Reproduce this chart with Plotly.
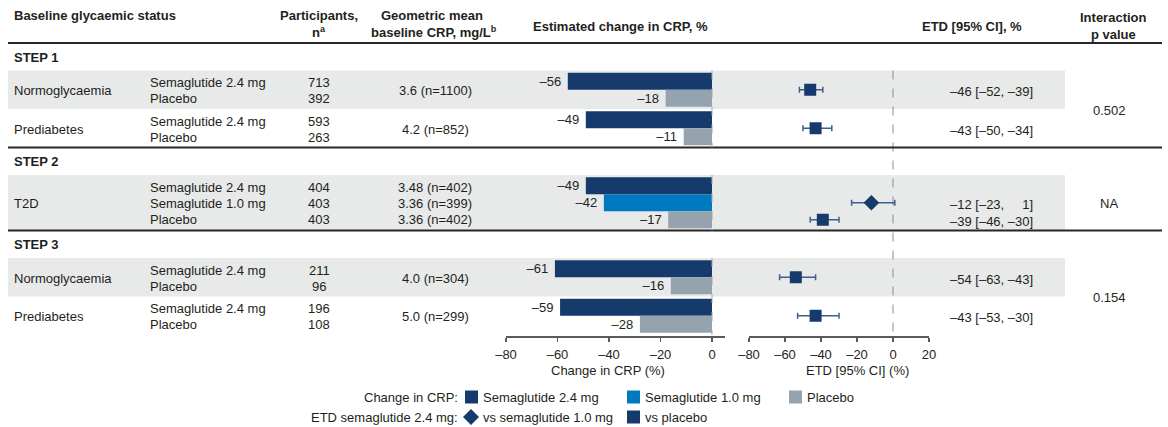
import plotly.graph_objects as go

W, H = 1168, 427

# ---------------- data ----------------
section_names = ["STEP 1", "STEP 2", "STEP 3"]
section_p_values = ["0.502", "NA", "0.154"]
group_section = [0, 0, 1, 2, 2]
group_labels = ["Normoglycaemia", "Prediabetes", "T2D", "Normoglycaemia", "Prediabetes"]
group_arms = [
    ["Semaglutide 2.4 mg", "Placebo"],
    ["Semaglutide 2.4 mg", "Placebo"],
    ["Semaglutide 2.4 mg", "Semaglutide 1.0 mg", "Placebo"],
    ["Semaglutide 2.4 mg", "Placebo"],
    ["Semaglutide 2.4 mg", "Placebo"],
]
group_participants = [[713, 392], [593, 263], [404, 403, 403], [211, 96], [196, 108]]
group_baseline_crp = [["3.6 (n=1100)"], ["4.2 (n=852)"],
                      ["3.48 (n=402)", "3.36 (n=399)", "3.36 (n=402)"],
                      ["4.0 (n=304)"], ["5.0 (n=299)"]]
group_crp_change = [[-56, -18], [-49, -11], [-49, -42, -17], [-61, -16], [-59, -28]]
group_etd_comparator = [["Placebo"], ["Placebo"], ["Semaglutide 1.0 mg", "Placebo"],
                        ["Placebo"], ["Placebo"]]
group_etd = [[-46], [-43], [-12, -39], [-54], [-43]]
group_etd_low = [[-52], [-50], [-23, -46], [-63], [-53]]
group_etd_high = [[-39], [-34], [1, -30], [-43], [-30]]

bar_ticks = [-80, -60, -40, -20, 0]
etd_ticks = [-80, -60, -40, -20, 0, 20]
arm_order = ["Semaglutide 2.4 mg", "Semaglutide 1.0 mg", "Placebo"]

# ---------------- style ----------------
FONT = "Liberation Sans, Arial, Helvetica, sans-serif"
TXT = "#231f20"
NAVY = "#163a6b"
BLUE = "#0079c1"
GRAY = "#95a3af"
SHADE = "#e8e9e9"
WHISK = "#3e5f8e"
AXC = "#5a5a5a"
arm_colors = {"Semaglutide 2.4 mg": NAVY, "Semaglutide 1.0 mg": BLUE, "Placebo": GRAY}
comp_symbol = {"Semaglutide 1.0 mg": "diamond", "Placebo": "square"}


def fmt(v):
    return "\u2013" + str(abs(v)) if v < 0 else str(v)


def fmt_pad(v):
    s = fmt(v)
    return "\u2007" * max(0, 3 - len(s)) + s


# ---------------- layout geometry (pixels) ----------------
BAR_PITCH = 17
TXT_PITCH = 16
rules = []
header_y = []
g_top, g_bot, g_ctr = [], [], []
sec_top, sec_bot = [], []
y = 43.0
for s in range(len(section_names)):
    rules.append(y)
    header_y.append(y + 14)
    y += 27.5
    sec_top.append(y)
    for g in range(len(group_labels)):
        if group_section[g] != s:
            continue
        n = len(group_arms[g])
        h = BAR_PITCH * n + 4.5
        g_top.append(y)
        g_bot.append(y + h)
        g_ctr.append(y + h / 2)
        y += h
    sec_bot.append(y)
AXIS_Y = sec_bot[-1] + 1


def bar_y(g, i):
    n = len(group_arms[g])
    return g_ctr[g] + (i - (n - 1) / 2) * BAR_PITCH


def txt_y(g, i):
    n = len(group_arms[g])
    return g_ctr[g] + (i - (n - 1) / 2) * TXT_PITCH


fig = go.Figure()


def text(x, yv, s, anchor="center", size=13, color=TXT):
    fig.add_annotation(x=x / W, xref="paper", y=yv, yref="y", text=s, showarrow=False,
                       xanchor=anchor, yanchor="middle",
                       font=dict(family=FONT, size=size, color=color))


# shading and rules
for g in range(len(group_labels)):
    first = g == 0 or group_section[g - 1] != group_section[g]
    if first:
        fig.add_shape(type="rect", xref="paper", yref="y", x0=8 / W, x1=1065 / W,
                      y0=g_top[g], y1=g_bot[g], fillcolor=SHADE, line_width=0, layer="below")
for r in rules:
    fig.add_shape(type="line", xref="paper", yref="y", x0=8 / W, x1=1162 / W, y0=r, y1=r,
                  line=dict(color="#262626", width=2))

# zero reference lines
for s in range(len(section_names)):
    fig.add_shape(type="line", xref="x", yref="y", x0=0, x1=0, y0=sec_top[s], y1=sec_bot[s],
                  line=dict(color="#a6a6a6", width=1, dash="dash"), layer="above")
fig.add_shape(type="line", xref="x2", yref="y", x0=0, x1=0, y0=sec_top[0], y1=AXIS_Y,
              line=dict(color="#8c8c8c", width=1, dash="dash"), layer="below")

# bars
for arm in arm_order:
    xs, ys, ts = [], [], []
    for g in range(len(group_labels)):
        for i, a in enumerate(group_arms[g]):
            if a == arm:
                xs.append(group_crp_change[g][i])
                ys.append(bar_y(g, i))
                ts.append(fmt(group_crp_change[g][i]) + "\u00a0")
    fig.add_trace(go.Bar(x=xs, y=ys, orientation="h", width=BAR_PITCH, base=0,
                         marker=dict(color=arm_colors[arm], line=dict(width=0)),
                         text=ts, textposition="outside", constraintext="none",
                         textfont=dict(family=FONT, size=13, color=TXT), cliponaxis=False,
                         xaxis="x", yaxis="y", showlegend=False, hoverinfo="skip"))

# forest plot
for comp in ["Semaglutide 1.0 mg", "Placebo"]:
    xs, ys, lo, hi = [], [], [], []
    for g in range(len(group_labels)):
        for j, c in enumerate(group_etd_comparator[g]):
            if c != comp:
                continue
            if len(group_etd[g]) == 1:
                yy = g_ctr[g]
            else:
                yy = bar_y(g, group_arms[g].index(c))
            xs.append(group_etd[g][j])
            ys.append(yy)
            lo.append(group_etd[g][j] - group_etd_low[g][j])
            hi.append(group_etd_high[g][j] - group_etd[g][j])
    fig.add_trace(go.Scatter(x=xs, y=ys, mode="markers", xaxis="x2", yaxis="y",
                             marker=dict(symbol=comp_symbol[comp], size=12, color=NAVY,
                                         line=dict(width=0)),
                             error_x=dict(type="data", array=hi, arrayminus=lo, color=WHISK,
                                          thickness=1.5, width=3),
                             showlegend=False, hoverinfo="skip", cliponaxis=False))

# table text
for s in range(len(section_names)):
    text(12, header_y[s], "<b>" + section_names[s] + "</b>", anchor="left")
    text(1109, (sec_top[s] + sec_bot[s]) / 2 + 1, section_p_values[s])

for g in range(len(group_labels)):
    text(12, g_ctr[g] + 1, group_labels[g], anchor="left")
    for i, a in enumerate(group_arms[g]):
        text(148, txt_y(g, i) + 1, a, anchor="left")
        text(319, txt_y(g, i) + 1, str(group_participants[g][i]))
    if len(group_baseline_crp[g]) == 1:
        text(435, g_ctr[g] + 1, group_baseline_crp[g][0])
    else:
        for i, b in enumerate(group_baseline_crp[g]):
            text(435, txt_y(g, i) + 1, b)
    for j, c in enumerate(group_etd_comparator[g]):
        if len(group_etd[g]) == 1:
            yy = g_ctr[g]
        else:
            yy = bar_y(g, group_arms[g].index(c))
        s = f"{fmt(group_etd[g][j])} [{fmt(group_etd_low[g][j])}, {fmt_pad(group_etd_high[g][j])}]"
        text(1035, yy + 2, s, anchor="right")

# column headers
text(12, 15, "<b>Baseline glycaemic status</b>", anchor="left")
text(319, 15, "<b>Participants,</b>")
text(319, 32, "<b>n<sup>a</sup></b>")
text(432, 15, "<b>Geometric mean</b>")
text(434, 32, "<b>baseline CRP, mg/L<sup>b</sup></b>")
text(620, 26, "<b>Estimated change in CRP, %</b>")
text(972, 26, "<b>ETD [95% CI], %</b>")
text(1113, 17, "<b>Interaction</b>")
text(1113, 34, "<b>p value</b>")

# axis titles
text(608, 370, "Change in CRP (%)")
text(857, 370, "ETD [95% CI] (%)")

# legend
LG1, LG2 = 397, 417
text(460, LG1, "Change in CRP:", anchor="right")
text(460, LG2, "ETD semaglutide 2.4 mg:", anchor="right")
for xs0, col, lab in [(465, NAVY, "Semaglutide 2.4 mg"), (627, BLUE, "Semaglutide 1.0 mg"),
                      (789, GRAY, "Placebo")]:
    fig.add_shape(type="rect", xref="paper", yref="y", x0=xs0 / W, x1=(xs0 + 13) / W,
                  y0=LG1 - 6.5, y1=LG1 + 6.5, fillcolor=col, line_width=0)
    text(xs0 + 16, LG1, lab, anchor="left")
cx = 471
fig.add_shape(type="path", xref="paper", yref="y",
              path=f"M {(cx - 8) / W} {LG2} L {cx / W} {LG2 - 8} L {(cx + 8) / W} {LG2} L {cx / W} {LG2 + 8} Z",
              fillcolor=NAVY, line_width=0)
text(481, LG2, "vs semaglutide 1.0 mg", anchor="left")
fig.add_shape(type="rect", xref="paper", yref="y", x0=627 / W, x1=640 / W,
              y0=LG2 - 6.5, y1=LG2 + 6.5, fillcolor=NAVY, line_width=0)
text(643, LG2, "vs placebo", anchor="left")

# axes
k_bar = 206 / 80
bar_range = [-80, 5]
x_dom = [506 / W, (506 + (bar_range[1] - bar_range[0]) * k_bar) / W]
axis_common = dict(anchor="free", position=(H - AXIS_Y) / H, showline=True, linecolor=AXC,
                   linewidth=1.5, ticks="outside", ticklen=4, tickwidth=1.5, tickcolor=AXC,
                   showgrid=False, zeroline=False, fixedrange=True, automargin=False,
                   tickfont=dict(family=FONT, size=13, color=TXT), ticklabelstandoff=2)
fig.update_layout(
    template="none",
    width=W, height=H, autosize=False,
    margin=dict(l=0, r=0, t=0, b=0, pad=0),
    paper_bgcolor="white", plot_bgcolor="white",
    barmode="overlay", showlegend=False,
    xaxis=dict(domain=x_dom, range=bar_range, tickvals=bar_ticks,
               ticktext=[fmt(v) for v in bar_ticks], **axis_common),
    xaxis2=dict(domain=[749 / W, 929 / W], range=[-80, 20], tickvals=etd_ticks,
                ticktext=[fmt(v) for v in etd_ticks], **axis_common),
    yaxis=dict(domain=[0, 1], range=[H, 0], visible=False, showgrid=False, zeroline=False,
               fixedrange=True, automargin=False),
)

fig.write_html("out.html", config={"displayModeBar": False, "staticPlot": True},
               post_script="document.body.style.margin='0';")
